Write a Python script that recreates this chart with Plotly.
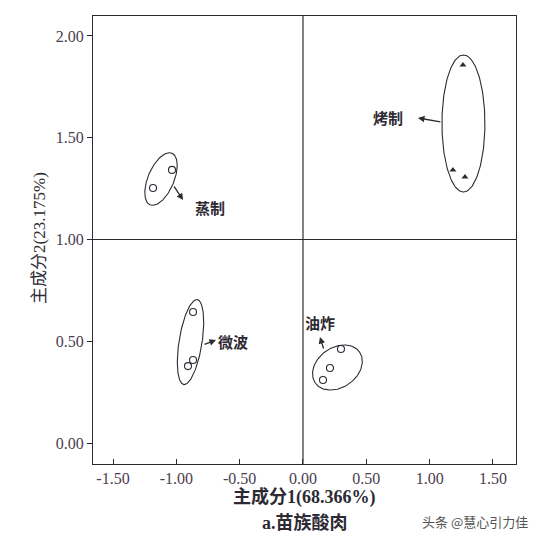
import numpy as np
import plotly.graph_objects as go

# ---- data ----
groups = ["蒸制", "微波", "油炸", "烤制"]
pc1_steam = [-1.034, -1.184]
pc2_steam = [1.342, 1.253]
pc1_micro = [-0.868, -0.868, -0.908]
pc2_micro = [0.644, 0.408, 0.378]
pc1_fry = [0.300, 0.213, 0.158]
pc2_fry = [0.462, 0.369, 0.310]
pc1_roast = [1.263, 1.184, 1.279]
pc2_roast = [1.857, 1.341, 1.307]

x_ticks = [-1.5, -1.0, -0.5, 0.0, 0.5, 1.0, 1.5]
y_ticks = [0.0, 0.5, 1.0, 1.5, 2.0]
x_divider = 0.0
y_divider = 1.0

# ---- styling / geometry ----
SX, SY = 126.67, 203.5   # px per unit
X_RANGE = [-1.658, 1.682]
Y_RANGE = [-0.103, 2.098]
INK = "#2e2a33"
SERIF = "Liberation Serif, Times New Roman, Noto Sans CJK SC, serif"

# ellipse: center (data), semi-major px, semi-minor px, tilt deg from vertical
ellipses = [
    ((-1.121, 1.297), 28, 13, 23),
    ((-0.888, 0.496), 43, 11.5, 9),
    ((0.272, 0.371), 27, 20, 55),
    ((1.267, 1.570), 68.5, 21.5, 0),
]

fig = go.Figure()

t = np.linspace(0, 2 * np.pi, 200)
for (cx, cy), a, b, th in ellipses:
    r = np.deg2rad(th)
    ux, uy = np.sin(r), np.cos(r)
    vx, vy = np.cos(r), -np.sin(r)
    dx = a * np.cos(t) * ux + b * np.sin(t) * vx
    dy = a * np.cos(t) * uy + b * np.sin(t) * vy
    fig.add_trace(go.Scatter(x=cx + dx / SX, y=cy + dy / SY, mode="lines",
                             line=dict(color=INK, width=1.1),
                             hoverinfo="skip", showlegend=False))

circ = dict(symbol="circle-open", size=7, color=INK, line=dict(width=1.1, color=INK))
for xs, ys in [(pc1_steam, pc2_steam), (pc1_micro, pc2_micro), (pc1_fry, pc2_fry)]:
    fig.add_trace(go.Scatter(x=xs, y=ys, mode="markers", marker=circ, showlegend=False))
fig.add_trace(go.Scatter(x=pc1_roast, y=pc2_roast, mode="markers",
                         marker=dict(symbol="triangle-up", size=6, color=INK),
                         showlegend=False))

# quadrant dividers
fig.add_shape(type="line", xref="x", yref="paper", x0=x_divider, x1=x_divider, y0=0, y1=1,
              line=dict(color=INK, width=1.2))
fig.add_shape(type="line", xref="paper", yref="y", x0=0, x1=1, y0=y_divider, y1=y_divider,
              line=dict(color=INK, width=1.2))

# labels with arrows: (label, label pos, arrow tail, arrow head)
labels = [
    ("蒸制", (-0.734, 1.155), (-1.026, 1.268), (-0.947, 1.194)),
    ("微波", (-0.553, 0.501), (-0.789, 0.482), (-0.687, 0.506)),
    ("油炸", (0.134, 0.590), (0.166, 0.457), (0.134, 0.521)),
    ("烤制", (0.671, 1.597), (1.097, 1.577), (0.908, 1.597)),
]
for txt, (lx, ly), (tx, ty), (hx, hy) in labels:
    fig.add_annotation(x=lx, y=ly, text="<b>" + txt + "</b>", showarrow=False,
                       font=dict(size=15, color=INK, family="Noto Sans CJK SC"))
    fig.add_annotation(x=hx, y=hy, ax=tx, ay=ty, axref="x", ayref="y", text="",
                       showarrow=True, arrowhead=2, arrowsize=1, arrowwidth=1.3,
                       arrowcolor=INK)

# titles
fig.add_annotation(xref="paper", yref="paper", x=0.5, y=-0.074, yanchor="middle",
                   text="<b>主成分1(68.366%)</b>", showarrow=False,
                   font=dict(size=18, color=INK, family=SERIF))
fig.add_annotation(xref="paper", yref="paper", x=0.5, y=-0.13, yanchor="middle",
                   text="<b>a.苗族酸肉</b>", showarrow=False,
                   font=dict(size=18, color=INK, family=SERIF))
fig.add_annotation(xref="paper", yref="paper", x=-0.125, y=0.505, textangle=-90,
                   xanchor="center", yanchor="middle",
                   text="主成分2(23.175%)", showarrow=False,
                   font=dict(size=17, color=INK, family=SERIF))
fig.add_annotation(xref="paper", yref="paper", x=1.033, y=-0.128, xanchor="right",
                   yanchor="middle", text="头条 @慧心引力佳", showarrow=False,
                   font=dict(size=13, color="#555555", family="Noto Sans CJK SC"))

axis_common = dict(showline=True, linecolor=INK, linewidth=1.2, mirror=True,
                   showgrid=False, zeroline=False, ticklen=5, tickcolor=INK,
                   tickfont=dict(family=SERIF, size=16, color="#4a4050"))
fig.update_xaxes(range=X_RANGE, tickvals=x_ticks,
                 ticktext=[f"{v:.2f}" for v in x_ticks], ticks="inside", **axis_common)
fig.update_yaxes(range=Y_RANGE, tickvals=y_ticks,
                 ticktext=[f"{v:.2f}" for v in y_ticks], ticks="outside", **axis_common)

# page body has an 8px margin, so the figure is sized/offset to compensate
fig.update_layout(width=530, height=530, margin=dict(l=85, r=22, t=8, b=74),
                  plot_bgcolor="white", paper_bgcolor="white", showlegend=False)

fig.write_html("out.html")
